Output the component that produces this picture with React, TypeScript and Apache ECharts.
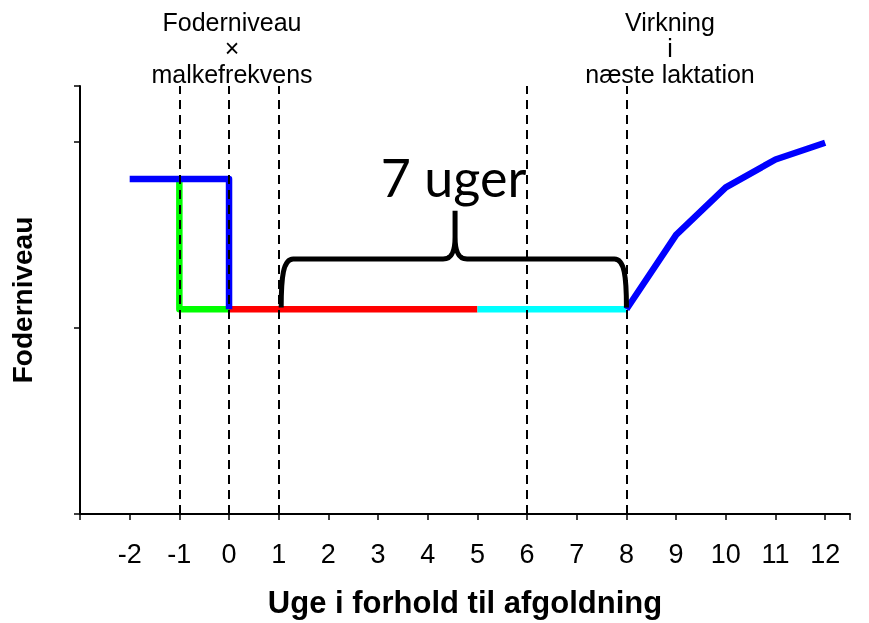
import React, { useEffect, useRef } from "react";
import * as echarts from "echarts";

// Weeks relative to drying-off and feeding level (arbitrary units)
const dryBlueWeeks = [-2, 0, 0];
const dryBlueLevels = [1.8, 1.8, 1.1];
const greenWeeks = [-1, -1, 0];
const greenLevels = [1.8, 1.1, 1.1];
const redWeeks = [0, 5];
const redLevels = [1.1, 1.1];
const cyanWeeks = [5, 8];
const cyanLevels = [1.1, 1.1];
const lactWeeks = [8, 9, 10, 11, 12];
const lactLevels = [1.1, 1.5, 1.755, 1.905, 1.995];
const dashedWeeks = [-1, 0, 1, 6, 8];
// brace: [startWeek, endWeek, tipWeek, baseLevel, barLevel, tipLevel]
const brace = [1.05, 8.0, 4.55, 1.11, 1.37, 1.63];
const braceLabel = "7 uger";
const braceLabelPos = [4.52, 1.81];
const leftNote = "Foderniveau\n×\nmalkefrekvens";
const rightNote = "Virkning\ni\nnæste laktation";
const xTitle = "Uge i forhold til afgoldning";
const yTitle = "Foderniveau";

const zip = (xs: number[], ys: number[]) => xs.map((x, i) => [x, ys[i]]);

export default function App() {
  const ref = useRef<HTMLDivElement>(null);
  useEffect(() => {
    if (!ref.current) return;
    const chart = echarts.init(ref.current, undefined, { renderer: "svg" });
    const lineStyle = (color: string) => ({ color, width: 6.5, cap: "butt", join: "round" });
    const mkLine = (name: string, xs: number[], ys: number[], color: string, z: number) => ({
      name,
      type: "line",
      data: zip(xs, ys),
      symbol: "none",
      lineStyle: lineStyle(color),
      itemStyle: { color },
      z,
      silent: true,
    });
    const noteStyle = (text: string) => ({
      text,
      align: "center",
      verticalAlign: "top",
      fontFamily: "Liberation Sans",
      fontSize: 25,
      lineHeight: 26,
      fill: "#000",
    });
    chart.setOption({
      animation: false,
      grid: { left: 77, right: 19, top: 86, bottom: 105 },
      xAxis: {
        type: "value",
        min: -3,
        max: 12.5,
        interval: 1,
        name: xTitle,
        nameLocation: "middle",
        nameGap: 73,
        nameTextStyle: { fontFamily: "Liberation Sans", fontSize: 31, fontWeight: "bold", color: "#000" },
        axisLine: { onZero: false, lineStyle: { color: "#000", width: 2 } },
        axisTick: { show: true, length: 6, lineStyle: { color: "#000", width: 1.5 } },
        axisLabel: {
          fontFamily: "Liberation Sans",
          fontSize: 27,
          color: "#000",
          margin: 26,
          formatter: (v: number) => (v === -3 || v > 12 ? "" : String(v)),
        },
        splitLine: { show: false },
      },
      yAxis: {
        type: "value",
        min: 0,
        max: 2.3,
        interval: 1,
        name: yTitle,
        nameLocation: "middle",
        nameGap: 44,
        nameTextStyle: { fontFamily: "Liberation Sans", fontSize: 28, fontWeight: "bold", color: "#000" },
        axisLine: { show: true, onZero: false, lineStyle: { color: "#000", width: 2 } },
        axisTick: { show: true, length: 6, lineStyle: { color: "#000", width: 1.5 } },
        axisLabel: { show: false },
        splitLine: { show: false },
      },
      graphic: [
        { type: "text", x: 232, y: 9, style: noteStyle(leftNote) },
        { type: "text", x: 670, y: 9, style: noteStyle(rightNote) },
      ],
      series: [
        {
          type: "line",
          data: [],
          z: 1,
          silent: true,
          markLine: {
            silent: true,
            symbol: "none",
            label: { show: false },
            lineStyle: { color: "#000", type: [9, 6], width: 2 },
            data: dashedWeeks.map((w) => ({ xAxis: w })),
          },
        },
        mkLine("green", greenWeeks, greenLevels, "#00ff00", 3),
        mkLine("blue1", dryBlueWeeks, dryBlueLevels, "#0000ff", 4),
        mkLine("red", redWeeks, redLevels, "#ff0000", 3),
        mkLine("cyan", cyanWeeks, cyanLevels, "#00ffff", 3),
        mkLine("blue2", lactWeeks, lactLevels, "#0000ff", 4),
        {
          type: "custom",
          z: 5,
          silent: true,
          data: [brace],
          renderItem: (params: any, api: any) => {
            const [x1, x2, xt, yb, ybar, ytip] = brace;
            const L = api.coord([x1, yb]);
            const R = api.coord([x2, yb]);
            const B = api.coord([xt, ybar]);
            const T = api.coord([xt, ytip]);
            const by = B[1];
            const tx = T[0];
            const ty = T[1];
            const d = [
              `M${L[0]},${L[1]}`,
              `C${L[0]},${by + 18} ${L[0] + 2},${by} ${L[0] + 12},${by}`,
              `L${tx - 12},${by}`,
              `C${tx - 3},${by} ${tx},${by - 8} ${tx},${by - 22}`,
              `L${tx},${ty}`,
              `M${tx},${by - 22}`,
              `C${tx},${by - 8} ${tx + 3},${by} ${tx + 12},${by}`,
              `L${R[0] - 12},${by}`,
              `C${R[0] - 2},${by} ${R[0]},${by + 18} ${R[0]},${R[1]}`,
            ].join(" ");
            const lp = api.coord(braceLabelPos);
            return {
              type: "group",
              children: [
                {
                  type: "path",
                  shape: { pathData: d },
                  style: { fill: "none", stroke: "#000", lineWidth: 5, lineJoin: "round", lineCap: "butt" },
                },
                {
                  type: "text",
                  x: lp[0],
                  y: lp[1],
                  style: {
                    text: braceLabel,
                    fontFamily: "Lato",
                    fontSize: 52,
                    fill: "#000",
                    align: "center",
                    verticalAlign: "middle",
                  },
                },
              ],
            };
          },
        },
      ],
    });
    return () => chart.dispose();
  }, []);
  return (
    <div
      ref={ref}
      style={{ position: "fixed", left: 0, top: 0, width: 869, height: 623 }}
    />
  );
}
